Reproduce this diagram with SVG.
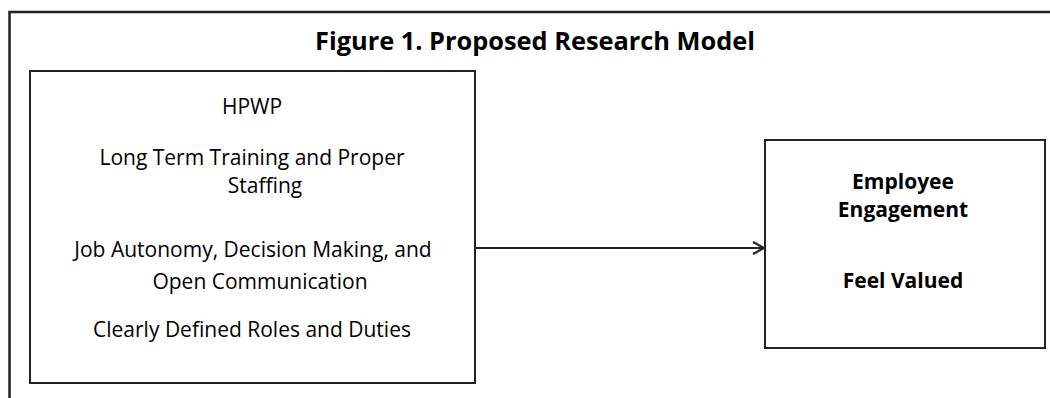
<svg xmlns="http://www.w3.org/2000/svg" width="1050" height="398" viewBox="0 0 1050 398">
<style>
.frame{fill:none;stroke:#222;stroke-width:2.5}
.box{fill:#fff;stroke:#222;stroke-width:2}
.t{font-family:"Open Sans","Liberation Sans",sans-serif;font-size:21px;fill:#000;text-anchor:middle}
.b{font-weight:bold}
.title{font-family:"Open Sans","Liberation Sans",sans-serif;font-size:25px;font-weight:bold;fill:#000;text-anchor:middle}
.conn{fill:none;stroke:#222;stroke-width:2}
</style>
<defs>
<marker id="arr" markerWidth="14" markerHeight="14" refX="12" refY="7" orient="auto" markerUnits="userSpaceOnUse">
<path d="M1,1 L12,7 L1,13" fill="none" stroke="#222" stroke-width="2"/>
</marker>
</defs>
<rect width="1050" height="398" fill="#fff"/>
<path class="frame" d="M9.5,398 L9.5,12 L1050,12"/>
<text class="title" x="535" y="50" textLength="440" lengthAdjust="spacingAndGlyphs">Figure 1. Proposed Research Model</text>
<g id="hpwp">
<rect class="box" x="30" y="71" width="445" height="312"/>
<text class="t" x="252" y="114">HPWP</text>
<text class="t" x="252" y="165">Long Term Training and Proper</text>
<text class="t" x="265" y="193">Staffing</text>
<text class="t" x="253" y="257">Job Autonomy, Decision Making, and</text>
<text class="t" x="260" y="289">Open Communication</text>
<text class="t" x="252" y="337">Clearly Defined Roles and Duties</text>
</g>
<g id="engagement">
<rect class="box" x="765" y="140" width="280" height="208"/>
<text class="t b" x="903" y="189">Employee</text>
<text class="t b" x="903" y="217">Engagement</text>
<text class="t b" x="903" y="288">Feel Valued</text>
</g>
<g id="connectors">
<path class="conn" d="M475,248 L764,248" marker-end="url(#arr)"/>
</g>
</svg>
